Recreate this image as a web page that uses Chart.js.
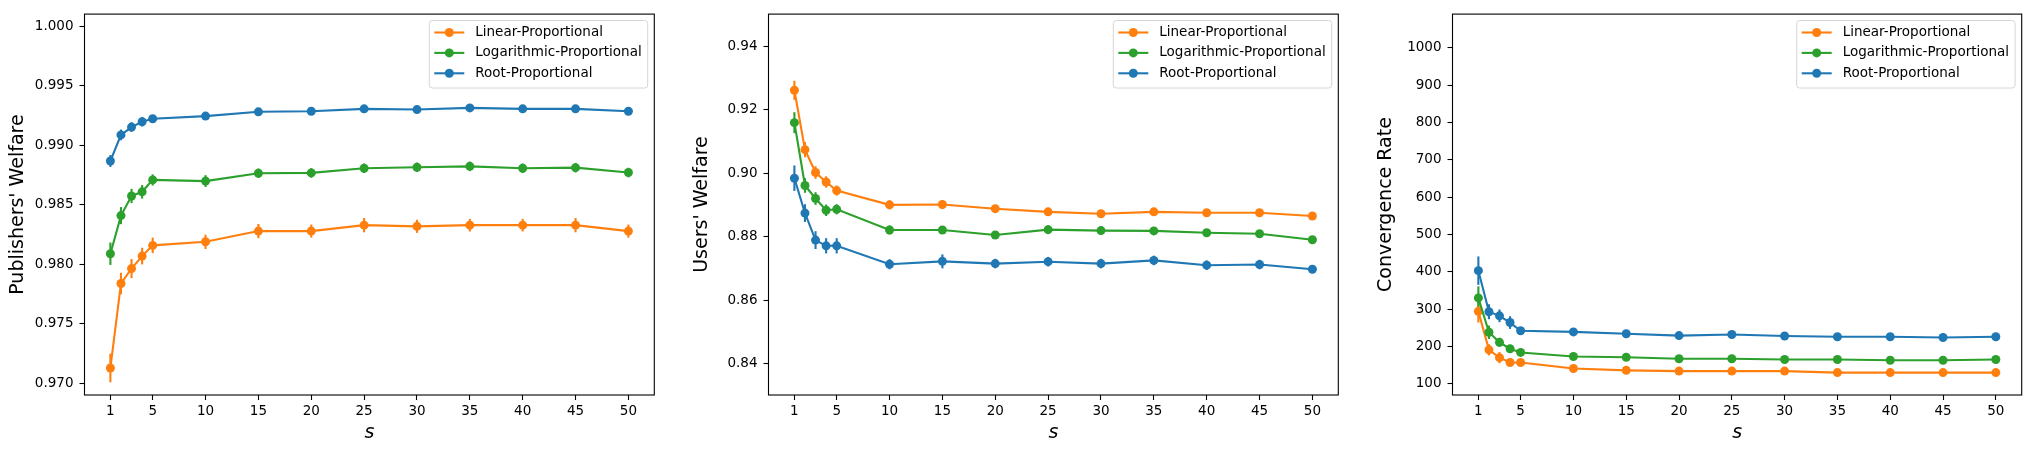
<!DOCTYPE html>
<html>
<head>
<meta charset="utf-8">
<script src="https://cdn.jsdelivr.net/npm/chart.js@4.4.0/dist/chart.umd.min.js"></script>
<style>
  html, body { margin: 0; padding: 0; background: #fff; }
  #wrap { position: relative; width: 2031px; height: 453px; overflow: hidden; }
  canvas { position: absolute; top: 0; }
</style>
</head>
<body>
<div id="wrap">
  <canvas id="pubChart" width="684" height="453" style="left:0px;width:684px;height:453px"></canvas>
  <canvas id="usrChart" width="684" height="453" style="left:684px;width:684px;height:453px"></canvas>
  <canvas id="convChart" width="663" height="453" style="left:1368px;width:663px;height:453px"></canvas>
</div>
<script>
// s values and x tick labels
const sValues = [1, 2, 3, 4, 5, 10, 15, 20, 25, 30, 35, 40, 45, 50];
const sTicks = [1, 5, 10, 15, 20, 25, 30, 35, 40, 45, 50];

const seriesNames = ['Linear-Proportional', 'Logarithmic-Proportional', 'Root-Proportional'];
const seriesColors = ['#ff7f0e', '#2ca02c', '#1f77b4'];

// Publishers' Welfare
const pubLinear = [0.9713, 0.9784, 0.97965, 0.9807, 0.9816, 0.9819, 0.9828, 0.9828, 0.9833, 0.9832, 0.9833, 0.9833, 0.9833, 0.9828];
const pubLinearErr = [0.0012, 0.0009, 0.0008, 0.0007, 0.00065, 0.0006, 0.0006, 0.00055, 0.0006, 0.00055, 0.00053, 0.00053, 0.0006, 0.00055];
const pubLog = [0.9809, 0.9841, 0.98575, 0.9861, 0.9871, 0.9870, 0.98766, 0.98769, 0.98808, 0.98816, 0.98824, 0.98808, 0.98813, 0.98772];
const pubLogErr = [0.00094, 0.00072, 0.0006, 0.00057, 0.00047, 0.0005, 0.0004, 0.0004, 0.0004, 0.0004, 0.0004, 0.0004, 0.0004, 0.0004];
const pubRoot = [0.98869, 0.99088, 0.99154, 0.99199, 0.99224, 0.99246, 0.99282, 0.99287, 0.99307, 0.99301, 0.99315, 0.99307, 0.99307, 0.99287];
const pubRootErr = [0.0005, 0.00045, 0.0004, 0.0004, 0.0003, 0.00025, 0.00025, 0.00025, 0.00025, 0.00025, 0.00025, 0.00025, 0.00025, 0.00025];
const pubTicks = [0.970, 0.975, 0.980, 0.985, 0.990, 0.995, 1.000];

// Users' Welfare
const usrLinear = [0.9261, 0.9074, 0.9002, 0.8972, 0.8945, 0.8900, 0.8901, 0.8888, 0.8878, 0.8872, 0.8878, 0.8875, 0.8875, 0.8865];
const usrLinearErr = [0.003, 0.0024, 0.002, 0.0018, 0.0016, 0.0014, 0.0014, 0.0012, 0.0012, 0.0012, 0.0012, 0.0012, 0.0012, 0.0012];
const usrLog = [0.9159, 0.8961, 0.8920, 0.8883, 0.8886, 0.8821, 0.8821, 0.8805, 0.8822, 0.8819, 0.8818, 0.8812, 0.8809, 0.8790];
const usrLogErr = [0.0033, 0.0023, 0.002, 0.0018, 0.0016, 0.0014, 0.0012, 0.0012, 0.0014, 0.0012, 0.0012, 0.0012, 0.0012, 0.0012];
const usrRoot = [0.8984, 0.8874, 0.8789, 0.8771, 0.8771, 0.8713, 0.8722, 0.8715, 0.8721, 0.8715, 0.8725, 0.8710, 0.8712, 0.8697];
const usrRootErr = [0.004, 0.0028, 0.0028, 0.0024, 0.0024, 0.0016, 0.0022, 0.0015, 0.0015, 0.0015, 0.0015, 0.0015, 0.0015, 0.0012];
const usrTicks = [0.84, 0.86, 0.88, 0.90, 0.92, 0.94];

// Convergence Rate
const convLinear = [294, 191, 170, 157, 157, 141, 136, 134, 134, 134, 130, 130, 130, 130];
const convLinearErr = [30, 15, 15, 10, 8, 6, 5, 5, 5, 5, 5, 5, 5, 5];
const convLog = [330, 238, 211, 194, 184, 173, 171, 167, 167, 165, 165, 163, 163, 165];
const convLogErr = [31, 18, 12, 10, 8, 6, 5, 5, 5, 5, 5, 5, 5, 5];
const convRoot = [403, 293, 282, 264, 242, 239, 234, 229, 232, 228, 226, 226, 224, 226];
const convRootErr = [38, 20, 17, 17, 10, 8, 6, 6, 6, 6, 6, 6, 6, 6];
const convTicks = [100, 200, 300, 400, 500, 600, 700, 800, 900, 1000];

const FONT = "'DejaVu Sans', sans-serif";

// vertical error bars, drawn under the lines
const errorBars = {
  id: 'errorBars',
  beforeDatasetsDraw(chart) {
    const { ctx, scales: { x, y } } = chart;
    ctx.save();
    chart.data.datasets.forEach(ds => {
      ctx.strokeStyle = ds.borderColor;
      ctx.lineWidth = 2.1;
      ds.data.forEach((p, j) => {
        const px = x.getPixelForValue(p.x);
        ctx.beginPath();
        ctx.moveTo(px, y.getPixelForValue(p.y - ds.err[j]));
        ctx.lineTo(px, y.getPixelForValue(p.y + ds.err[j]));
        ctx.stroke();
      });
    });
    ctx.restore();
  }
};

// box around the plot area + matplotlib-like legend
const frameLegend = {
  id: 'frameLegend',
  afterDraw(chart) {
    const { ctx, chartArea: a } = chart;
    ctx.save();
    ctx.strokeStyle = '#000';
    ctx.lineWidth = 1.1;
    ctx.strokeRect(a.left, a.top, a.right - a.left, a.bottom - a.top);

    ctx.font = '13.5px ' + FONT;
    const dsList = chart.data.datasets;
    const textW = Math.max(...dsList.map(d => ctx.measureText(d.label).width));
    const w = 46 + textW + 6;
    const h = 67.5;
    const bx = a.right - 6.6 - w;
    const by = a.top + 6.4;
    ctx.beginPath();
    ctx.roundRect(bx, by, w, h, 3);
    ctx.fillStyle = 'rgba(255,255,255,0.8)';
    ctx.fill();
    ctx.strokeStyle = '#d6d6d6';
    ctx.lineWidth = 1;
    ctx.stroke();

    dsList.forEach((d, i) => {
      const ry = by + 12 + i * 20.4;
      ctx.strokeStyle = d.borderColor;
      ctx.lineWidth = 2.1;
      ctx.beginPath();
      ctx.moveTo(bx + 5, ry);
      ctx.lineTo(bx + 35, ry);
      ctx.stroke();
      ctx.fillStyle = d.borderColor;
      ctx.beginPath();
      ctx.arc(bx + 20, ry, 4.5, 0, Math.PI * 2);
      ctx.fill();
      ctx.fillStyle = '#000';
      ctx.textBaseline = 'middle';
      ctx.fillText(d.label, bx + 46, ry);
    });
    ctx.restore();
  }
};

function makeChart(id, yLabel, series, errs, yMin, yMax, yTicks, fmt, padRight) {
  const datasets = series.map((vals, i) => ({
    label: seriesNames[i],
    data: vals.map((v, j) => ({ x: sValues[j], y: v })),
    err: errs[i],
    borderColor: seriesColors[i],
    backgroundColor: seriesColors[i],
    borderWidth: 2.1,
    pointRadius: 4.5,
    pointBorderWidth: 0,
    pointHoverRadius: 4.5,
    tension: 0,
    order: 2 - i
  }));

  return new Chart(document.getElementById(id).getContext('2d'), {
    type: 'line',
    data: { datasets },
    options: {
      responsive: false,
      animation: false,
      events: [],
      layout: { padding: { top: 10.3, right: padRight, bottom: 0, left: 0 } },
      plugins: {
        legend: { display: false },
        tooltip: { enabled: false }
      },
      scales: {
        x: {
          type: 'linear',
          min: -1.45,
          max: 52.45,
          afterBuildTicks: s => { s.ticks = sTicks.map(v => ({ value: v })); },
          afterFit: s => { s.height = 58; },
          ticks: { color: '#000', font: { family: FONT, size: 13.5 }, padding: 3, maxRotation: 0 },
          grid: { display: true, drawOnChartArea: false, drawTicks: true, tickLength: 5, tickColor: '#000', tickWidth: 1.1 },
          border: { display: false },
          title: {
            display: true,
            text: 's',
            color: '#000',
            font: { family: FONT, size: 19, style: 'italic' },
            padding: { top: 0, bottom: 8.6 }
          }
        },
        y: {
          type: 'linear',
          min: yMin,
          max: yMax,
          afterBuildTicks: s => { s.ticks = yTicks.map(v => ({ value: v })); },
          afterFit: s => { s.width = 84.5; },
          ticks: { color: '#000', font: { family: FONT, size: 13.5 }, padding: 6, callback: fmt },
          grid: { display: true, drawOnChartArea: false, drawTicks: true, tickLength: 5, tickColor: '#000', tickWidth: 1.1 },
          border: { display: false },
          title: {
            display: true,
            text: yLabel,
            color: '#000',
            font: { family: FONT, size: 19 },
            padding: { top: 6.6, bottom: 0 }
          }
        }
      }
    },
    plugins: [errorBars, frameLegend]
  });
}

makeChart('pubChart', "Publishers' Welfare",
  [pubLinear, pubLog, pubRoot], [pubLinearErr, pubLogErr, pubRootErr],
  0.96903, 1.00103, pubTicks, v => v.toFixed(3), 29.7);

makeChart('usrChart', "Users' Welfare",
  [usrLinear, usrLog, usrRoot], [usrLinearErr, usrLogErr, usrRootErr],
  0.8301, 0.9501, usrTicks, v => v.toFixed(2), 29.7);

makeChart('convChart', 'Convergence Rate',
  [convLinear, convLog, convRoot], [convLinearErr, convLogErr, convRootErr],
  70, 1090, convTicks, v => String(Math.round(v)), 9.3);
</script>
</body>
</html>
